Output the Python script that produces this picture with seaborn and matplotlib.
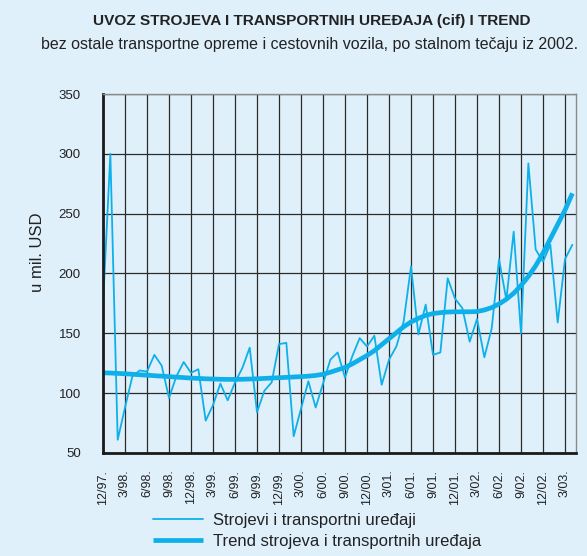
import numpy as np
import pandas as pd
import matplotlib
matplotlib.use("Agg")
import matplotlib.pyplot as plt
import seaborn as sns

# Monthly imports, Dec 1997 - Apr 2003 (mil. USD)
imports = [174, 300, 61, 88, 114, 119, 118, 132, 123, 96,
           114, 126, 117, 120, 77, 90, 108, 94, 109, 121,
           138, 84, 102, 109, 141, 142, 64, 87, 110, 88,
           108, 128, 134, 113, 131, 146, 139, 148, 107, 128,
           139, 160, 206, 149, 174, 132, 134, 196, 179, 171,
           143, 162, 130, 154, 212, 178, 235, 150, 292, 220,
           210, 224, 159, 212, 224]

trend = [117, 116.8, 116.5, 116.2, 115.8, 115.4, 115, 114.6, 114.2, 113.8,
         113.4, 113, 112.6, 112.3, 112, 111.8, 111.6, 111.5, 111.5, 111.6,
         111.8, 112, 112.3, 112.6, 112.9, 113.2, 113.5, 113.8, 114.2, 114.8,
         115.8, 117.5, 119.5, 121.5, 124.5, 128, 131.5, 135.5, 140.5, 145.5,
         150.5, 155.5, 159.5, 162.5, 165, 166.5, 167.3, 167.8, 168, 168,
         168, 168.2, 169.5, 171.5, 174.5, 178.5, 183.5, 190, 197.5, 206.5,
         217, 229, 241, 253, 267]

tick_labels = ["12/97.", "3/98.", "6/98.", "9/98.", "12/98.", "3/99.", "6/99.",
               "9/99.", "12/99.", "3/00.", "6/00.", "9/00.", "12/00.", "3/01.",
               "6/01.", "9/01.", "12/01.", "3/02.", "6/02.", "9/02.", "12/02.",
               "3/03."]

series_names = ["Strojevi i transportni uređaji",
                "Trend strojeva i transportnih uređaja"]

title = "UVOZ STROJEVA I TRANSPORTNIH UREĐAJA (cif) I TREND"
subtitle = "bez ostale transportne opreme i cestovnih vozila, po stalnom tečaju iz 2002."
y_label = "u mil. USD"

bg = "#dff0fb"
cyan = "#0fb0ea"
ink = "#222222"

sns.set_style("white")
plt.rcParams["font.family"] = ["Liberation Sans", "DejaVu Sans"]

df = pd.DataFrame({
    "month": np.arange(len(imports)),
    series_names[0]: imports,
    series_names[1]: trend,
})

fig = plt.figure(figsize=(5.87, 5.56), dpi=100, facecolor=bg)
ax = fig.add_axes([0.1755, 0.1853, 0.8058, 0.6456])
ax.set_facecolor(bg)

sns.lineplot(data=df, x="month", y=series_names[0], ax=ax, color=cyan,
             linewidth=1.3, label=series_names[0])
sns.lineplot(data=df, x="month", y=series_names[1], ax=ax, color=cyan,
             linewidth=3.4, label=series_names[1], solid_capstyle="butt")

ax.set_xlim(0, 64.5)
ax.set_ylim(50, 350)
ax.set_yticks(np.arange(50, 351, 50))
ax.set_xticks(np.arange(0, 3 * len(tick_labels), 3))
ax.set_xticklabels(tick_labels, rotation=90, fontsize=9, color=ink)
ax.tick_params(axis="y", labelsize=9.5, labelcolor=ink, length=6,
               width=0.8, color=ink, pad=10)
ax.tick_params(axis="x", length=5, width=0.8, color=ink, pad=7)

ax.grid(True, color="#2a2a2a", linewidth=0.9)
ax.set_axisbelow(True)
for s in ("left", "bottom"):
    ax.spines[s].set_color("#1a1a1a")
    ax.spines[s].set_linewidth(2)
for s in ("top", "right"):
    ax.spines[s].set_color("#8a8a8a")
    ax.spines[s].set_linewidth(1)

ax.set_xlabel("")
ax.set_ylabel("")
fig.text(38 / 587, 1 - 252 / 556, y_label, rotation=90, ha="center",
         va="center", fontsize=12, color=ink)

leg = ax.legend(loc="upper left", bbox_to_anchor=(0.105, -0.168), frameon=False,
                fontsize=12, handlelength=3.0, handletextpad=0.6,
                labelspacing=0.35, borderaxespad=0, borderpad=0)
for t in leg.get_texts():
    t.set_color(ink)

fig.text(312 / 587, 1 - 21 / 556, title, ha="center", va="center",
         fontsize=11.1, fontweight="bold", color=ink)
fig.text(310 / 587, 1 - 45 / 556, subtitle, ha="center", va="center",
         fontsize=11.5, color=ink)

fig.savefig("out.png", dpi=100, facecolor=bg)
